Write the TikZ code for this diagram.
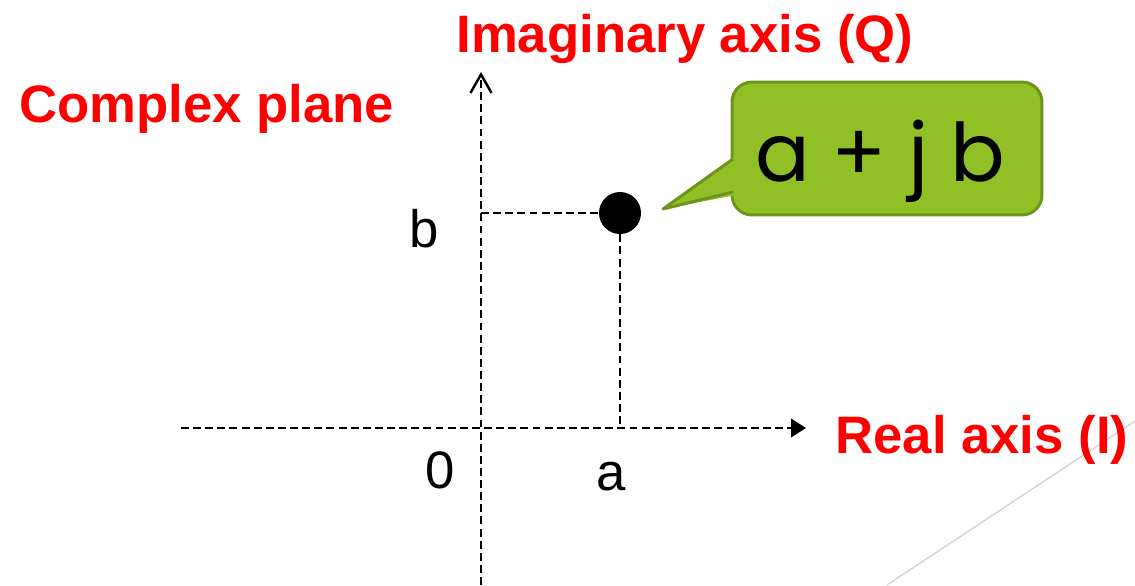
\documentclass[tikz,border=0pt]{standalone}
\usepackage{fontspec}
\setmainfont{Liberation Sans}
\newfontfamily\calfont{Poppins}
\usetikzlibrary{arrows.meta}
\definecolor{cfill}{RGB}{145,192,38}
\definecolor{cline}{RGB}{110,148,30}
\definecolor{diag}{RGB}{212,212,212}
\begin{document}
\begin{tikzpicture}[x=0.02cm,y=-0.02cm,
  redlbl/.style={text=red, font=\fontsize{30}{36}\selectfont\bfseries, inner sep=0, anchor=base west},
  blklbl/.style={font=\fontsize{30}{36}\selectfont, inner sep=0, anchor=base},
  axisline/.style={line width=1.3pt, dash pattern=on 4.5pt off 2.4pt},
  guide/.style={line width=1.3pt, dash pattern=on 4.5pt off 2.4pt},
  calloutbox/.style={draw=cline, fill=cfill, line width=1.7pt, rounded corners=0.4cm,
    minimum width=6.2cm, minimum height=2.66cm, inner sep=0},
  dotnode/.style={circle, fill=black, minimum size=0.84cm, inner sep=0}]
\useasboundingbox (0,0) rectangle (1135,585);
% faint diagonal line
\coordinate (d1) at (1135,421);
\coordinate (d2) at (887,585);
\draw[diag, line width=0.8pt] (d1) -- (d2);
% axes
\coordinate (vb) at (481,585);
\coordinate (vt) at (481,72);
\coordinate (hl) at (181,428);
\coordinate (hr) at (806,428);
\draw[axisline, -{Straight Barb[length=10.5pt,width=12pt,line width=1.4pt]}] (vb) -- (vt);
\draw[axisline, -{Triangle[length=8.5pt,width=10.5pt]}] (hl) -- (hr);
% labels
\node[redlbl] (im) at (456,52) {Imaginary axis (Q)};
\node[redlbl] (cp) at (19,122) {Complex plane};
\node[redlbl] (re) at (835,453) {Real axis (I)};
\node[blklbl] (zero) at (440,488) {0};
\node[blklbl] (la) at (611,490) {a};
\node[blklbl] (lb) at (424,247) {b};
% point and guides
\coordinate (pb) at (481,213);
\coordinate (pa) at (620,428);
\node[dotnode] (P) at (620,213) {};
\draw[guide] (pb) -- (P.west);
\draw[guide] (P.south) -- (pa);
% callout
\node[calloutbox] (cz) at (887,148.5) {};
\coordinate (tip) at (663,209);
\coordinate (pt1) at (733,159);
\coordinate (pt2) at (733,192);
\coordinate (pf1) at (736,156);
\coordinate (pf2) at (736,195);
\fill[cfill] (tip) -- (pf1) -- (pf2) -- cycle;
\draw[cline, line width=1.7pt, line join=round] (pt1) -- (tip) -- (pt2);
\node[font=\calfont\fontsize{46}{52}\selectfont, inner sep=0, anchor=base] (czt) at (880,181) {a + j b};
\end{tikzpicture}
\end{document}
